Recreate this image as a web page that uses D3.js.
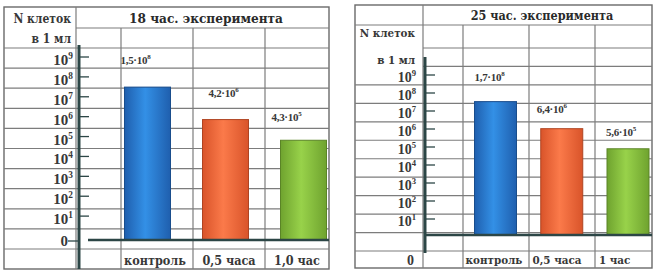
<!DOCTYPE html>
<html>
<head>
<meta charset="utf-8">
<script src="https://cdn.jsdelivr.net/npm/d3@7"></script>
<style>
body{margin:0;background:#fff}
.cyr{font-family:'DejaVu Serif Condensed','DejaVu Serif',serif;font-stretch:condensed}
</style>
</head>
<body>
<svg id="chart" width="655" height="272" font-family="'Liberation Serif', 'DejaVu Serif', serif" font-weight="bold"></svg>
<script>
// data
var cats18 = ["контроль","0,5 часа","1,0 час"]
var cats25 = ["контроль","0,5 часа","1 час"]
var values18 = [1.5e8, 4.2e6, 4.3e5]
var values25 = [1.7e8, 6.4e6, 5.6e5]
var powers = [1,2,3,4,5,6,7,8,9]
var titles = ["18 час. эксперимента","25 час. эксперимента"]
var yLabel = ["N клеток","в 1 мл"]
var barColors = [["#1f5fae","#3390e6"],["#d9542a","#fb7a4a"],["#6fa32f","#98d24a"]]
var gridColor = "#7c7c7c"
var axisColor = "#2c4646"
var textColor = "#383838"

var svg = d3.select("#chart")
var defs = svg.append("defs")
barColors.forEach(function(c,i){
  var g = defs.append("linearGradient").attr("id","bar"+i)
  g.append("stop").attr("offset","0%").attr("stop-color",c[0])
  g.append("stop").attr("offset","45%").attr("stop-color",c[1])
  g.append("stop").attr("offset","100%").attr("stop-color",c[0])
})

function drawPanel(p){
  var g = svg.append("g").attr("fill",textColor)
  // table
  g.append("rect").attr("x",p.x0).attr("y",p.y0).attr("width",p.x1-p.x0).attr("height",p.y1-p.y0)
    .attr("fill","none").attr("stroke","#6a6a6a").attr("stroke-width",1.4)
  var rows = d3.range(p.rowCount).map(function(i){return p.rowTop + i*(p.rowBottom-p.rowTop)/(p.rowCount-1)})
  rows.forEach(function(y){
    var left = y < p.hdrMerge ? p.hdrX : p.x0
    g.append("line").attr("x1",left).attr("x2",p.x1).attr("y1",y).attr("y2",y)
      .attr("stroke",gridColor).attr("stroke-width",1.2)
  })
  g.append("line").attr("x1",p.titleFull ? p.x0 : p.hdrX).attr("x2",p.x1).attr("y1",p.titleY).attr("y2",p.titleY)
    .attr("stroke",gridColor).attr("stroke-width",1.2)
  g.append("line").attr("x1",p.hdrX).attr("x2",p.hdrX).attr("y1",p.y0).attr("y2",p.y1).attr("stroke",gridColor).attr("stroke-width",1.2)
  p.cols.forEach(function(x){
    g.append("line").attr("x1",x).attr("x2",x).attr("y1",p.titleY).attr("y2",p.y1).attr("stroke",gridColor).attr("stroke-width",1.2)
  })

  // title + axis name
  g.append("text").attr("class","cyr").attr("x",p.titleX).attr("y",p.titleBase).attr("text-anchor","middle")
    .style("font-size",p.titleSize+"px").attr("fill","#2a2a2a").text(p.title)
  yLabel.forEach(function(t,i){
    g.append("text").attr("class","cyr").attr("x",p.hdrTextX).attr("y",p.hdrTextY[i]).attr("text-anchor","end")
      .style("font-size",p.hdrSize+"px").text(t)
  })

  // scales
  var x = d3.scalePoint().domain(p.cats).range(p.barRange)
  var yTick = d3.scaleLinear().domain([0,9]).range(p.tickRange)
  var yBar = d3.scaleLog().domain([1,1e9]).range(p.barScale)

  // ticks
  powers.forEach(function(k){
    var t = g.append("text").attr("x",p.tickTextX).attr("y",yTick(k)+5).attr("text-anchor","end")
      .style("font-size",p.tickSize+"px")
    t.append("tspan").text("10")
    t.append("tspan").attr("dy",-6).style("font-size",(p.tickSize*0.62)+"px").text(k)
    g.append("line").attr("x1",p.axisX).attr("x2",p.axisX+10).attr("y1",yTick(k)+p.tickOff).attr("y2",yTick(k)+p.tickOff)
      .attr("stroke",axisColor).attr("stroke-width",1.3)
  })
  g.append("text").attr("x",p.zero[0]).attr("y",p.zero[1]).attr("text-anchor","end")
    .style("font-size",p.tickSize+"px").text("0")
  if (p.zeroDash){
    g.append("line").attr("x1",p.zero[0]).attr("x2",p.axisX).attr("y1",p.zero[1]-5).attr("y2",p.zero[1]-5)
      .attr("stroke",axisColor).attr("stroke-width",1.3)
  }

  // bars
  g.selectAll(".bar").data(p.values).enter().append("rect")
    .attr("x",function(d,i){return x(p.cats[i]) - p.barW/2})
    .attr("y",function(d){return yBar(d)})
    .attr("width",p.barW)
    .attr("height",function(d){return p.base - yBar(d)})
    .attr("fill",function(d,i){return "url(#bar"+i+")"})
    .attr("stroke",function(d,i){return d3.color(barColors[i][0]).darker(0.6)})
    .attr("stroke-width",1)

  // value labels
  p.values.forEach(function(v,i){
    var e = Math.floor(Math.log10(v))
    var m = (v/Math.pow(10,e)).toFixed(1).replace(".",",")
    var t = g.append("text").attr("x",x(p.cats[i]) - p.barW/2 + p.labelDx[i]).attr("y",yBar(v) - p.labelUp[i])
      .style("font-size","11px").style("letter-spacing","-0.3px")
    t.append("tspan").text(m+"·10")
    t.append("tspan").attr("dy",-5).style("font-size","7px").text(e)
  })

  // axis + baseline
  g.append("line").attr("x1",p.axisX).attr("x2",p.axisX).attr("y1",p.axisTop).attr("y2",p.axisBottom)
    .attr("stroke",axisColor).attr("stroke-width",3)
  g.append("line").attr("x1",p.axisX+p.baseGap).attr("x2",p.x1).attr("y1",p.base).attr("y2",p.base)
    .attr("stroke",axisColor).attr("stroke-width",2.6)

  // categories
  p.cats.forEach(function(c,i){
    g.append("text").attr("class","cyr").attr("x",p.catX[i]).attr("y",p.catY).attr("text-anchor",p.catAnchor[i])
      .style("font-size",p.catSize+"px").text(c)
  })
}

drawPanel({
  x0:4, x1:329, y0:7, y1:269, hdrX:76, titleY:28, titleFull:false, hdrMerge:48,
  rowTop:48, rowBottom:249, rowCount:11, cols:[121,193,265],
  title:titles[0], titleX:206, titleBase:23, titleSize:13.5,
  hdrTextX:71, hdrTextY:[23,43], hdrSize:12,
  cats:cats18, values:values18, barRange:[147.5,303.5], barW:46,
  tickRange:[239,60], tickTextX:73, tickSize:15, tickOff:-3,
  barScale:[258,258-9*20.9], base:240,
  zero:[68,246], zeroDash:true,
  labelDx:[-4,6,-9], labelUp:[23,23,19],
  axisX:79, axisTop:45, axisBottom:269, baseGap:9,
  catX:[155,229,297], catY:265, catAnchor:["middle","middle","middle"], catSize:12.5
})

drawPanel({
  x0:355, x1:652, y0:5, y1:268, hdrX:423, titleY:25, titleFull:true, hdrMerge:67,
  rowTop:48, rowBottom:251, rowCount:12, cols:[463,529,595],
  title:titles[1], titleX:542, titleBase:20, titleSize:12.5,
  hdrTextX:415, hdrTextY:[37,64], hdrSize:11.5,
  cats:cats25, values:values25, barRange:[495.5,628], barW:42,
  tickRange:[239,77], tickTextX:416, tickSize:14, tickOff:-2,
  barScale:[258,258-9*19], base:235,
  zero:[414,265], zeroDash:false,
  labelDx:[0,-4,-1], labelUp:[21,16,13],
  axisX:425, axisTop:57, axisBottom:253, baseGap:0,
  catX:[494,557,599], catY:264, catAnchor:["middle","middle","start"], catSize:11.5
})
</script>
</body>
</html>
